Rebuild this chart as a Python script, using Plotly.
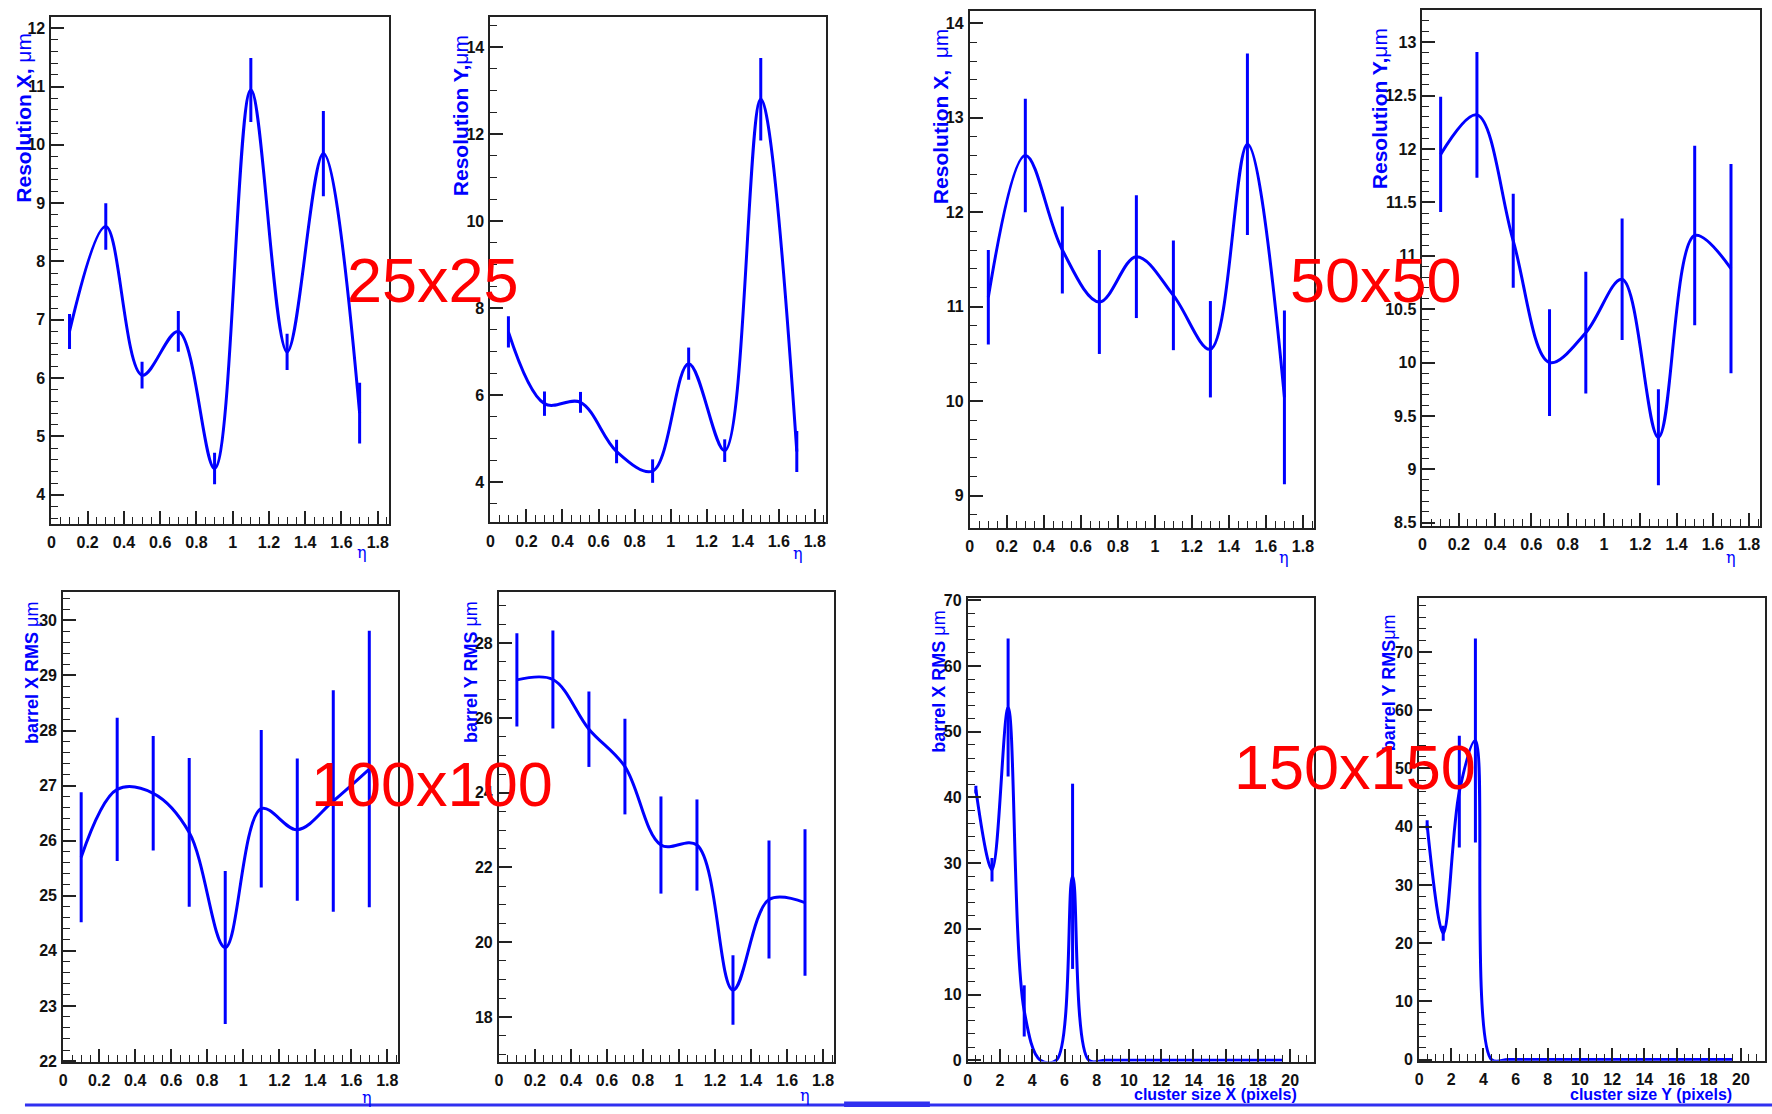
import plotly.graph_objects as go

W, H = 1772, 1114

# ---------------- data ----------------
eta = [0.1, 0.3, 0.5, 0.7, 0.9, 1.1, 1.3, 1.5, 1.7]

res25_x = [6.8, 8.6, 6.05, 6.8, 4.45, 10.94, 6.45, 9.85, 5.4]
res25_x_err = [0.3, 0.4, 0.23, 0.35, 0.27, 0.55, 0.31, 0.73, 0.52]

res25_y = [7.45, 5.8, 5.83, 4.7, 4.25, 6.72, 4.72, 12.8, 4.7]
res25_y_err = [0.36, 0.28, 0.24, 0.27, 0.27, 0.37, 0.26, 0.95, 0.47]

res50_x = [11.1, 12.6, 11.6, 11.05, 11.53, 11.12, 10.55, 12.72, 10.04]
res50_x_err = [0.5, 0.6, 0.46, 0.55, 0.65, 0.58, 0.51, 0.96, 0.92]

res50_y = [11.95, 12.32, 11.14, 10.0, 10.28, 10.78, 9.3, 11.19, 10.88]
res50_y_err = [0.54, 0.59, 0.44, 0.5, 0.57, 0.57, 0.45, 0.84, 0.98]

rms100_x = [25.7, 26.93, 26.86, 26.15, 24.06, 26.58, 26.2, 26.72, 27.3]
rms100_x_err = [1.18, 1.3, 1.04, 1.35, 1.39, 1.43, 1.29, 2.01, 2.51]

rms100_y = [27.02, 27.03, 25.7, 24.7, 22.6, 22.6, 18.72, 21.14, 21.06]
rms100_y_err = [1.25, 1.31, 1.01, 1.28, 1.3, 1.22, 0.93, 1.58, 1.96]

cluster = [0.5, 1.5, 2.5, 3.5, 4.5, 5.5, 6.5, 7.5, 8.5, 9.5,
           10.5, 11.5, 12.5, 13.5, 14.5, 15.5, 16.5, 17.5, 18.5, 19.5]
rms150_x = [41.2, 29.0, 53.7, 7.5, 0, 0, 28.0, 0, 0, 0,
            0, 0, 0, 0, 0, 0, 0, 0, 0, 0]
rms150_x_err = [0.6, 1.8, 10.5, 3.9, 0, 0, 14.1, 0, 0, 0,
                0, 0, 0, 0, 0, 0, 0, 0, 0, 0]
rms150_y = [40.3, 21.7, 46.0, 54.8, 0, 0, 0, 0, 0, 0,
            0, 0, 0, 0, 0, 0, 0, 0, 0, 0]
rms150_y_err = [0.8, 1.3, 9.6, 17.5, 0, 0, 0, 0, 0, 0,
                0, 0, 0, 0, 0, 0, 0, 0, 0, 0]

y_titles = ["<b>Resolution X, </b>μm", "<b>Resolution Y,</b>μm",
            "<b>Resolution X,\u00a0 </b>μm", "<b>Resolution Y,</b>μm",
            "<b>barrel X RMS </b>μm", "<b>barrel Y RMS </b>μm",
            "<b>barrel X RMS </b>μm", "<b>barrel Y RMS</b>μm"]
size_labels = ["25x25", "50x50", "100x100", "150x150"]

# ---------------- layout helpers ----------------
def xp(px):
    return px / W

def yp(py):
    return 1 - py / H

BLUE = "#0000FF"
AX = "#222222"

panels = [
    # x, y, err, frame (l, r, top, bottom px), xrange, yrange, ydtick, yminor, xdtick, xminor
    (eta, res25_x, res25_x_err, (47.5, 385.5, 10.7, 524), [0, 1.86], [3.5, 12.2], 1, 0.2, 0.2, 0.05),
    (eta, res25_y, res25_y_err, (487.5, 823.5, 10.7, 522.5), [0, 1.86], [3.07, 14.7], 2, 0.5, 0.2, 0.05),
    (eta, res50_x, res50_x_err, (968, 1313, 5, 528), [0, 1.86], [8.66, 14.13], 1, 0.2, 0.2, 0.05),
    (eta, res50_y, res50_y_err, (1421.7, 1760, 4.3, 526), [0, 1.86], [8.47, 13.3], 0.5, 0.1, 0.2, 0.05),
    (eta, rms100_x, rms100_x_err, (59.3, 395, 592.6, 1068.6), [0, 1.86], [21.98, 30.52], 1, 0.2, 0.2, 0.05),
    (eta, rms100_y, rms100_y_err, (496, 831.7, 592.6, 1068.6), [0, 1.86], [16.79, 29.38], 2, 0.5, 0.2, 0.05),
    (cluster, rms150_x, rms150_x_err, (966, 1313.3, 598.8, 1068), [0, 21.5], [-0.2, 70.4], 10, 2, 2, 0.5),
    (cluster, rms150_y, rms150_y_err, (1418.3, 1765, 598.8, 1067.2), [0, 21.5], [-0.2, 79.3], 10, 2, 2, 0.5),
]

fig = go.Figure()
tickfont = dict(family="Liberation Sans", size=16, color="#111111", weight="bold")

for i, (xs, ys, es, fr, xr, yr, ydt, ymn, xdt, xmn) in enumerate(panels):
    n = "" if i == 0 else str(i + 1)
    l, r, t, b = fr
    fig.add_trace(go.Scatter(
        x=xs, y=ys, mode="lines",
        line=dict(shape="spline", smoothing=1.0, color=BLUE, width=3),
        error_y=dict(type="data", array=es, visible=True, thickness=3, width=0, color=BLUE),
        xaxis="x" + n, yaxis="y" + n, showlegend=False, hoverinfo="skip",
    ))
    fig.layout["xaxis" + n] = dict(
        domain=[xp(l), xp(r)], range=xr, anchor="y" + n,
        dtick=xdt, tick0=0, ticks="inside", ticklen=13, tickwidth=1.5, tickcolor=AX,
        minor=dict(dtick=xmn, tick0=0, ticks="inside", ticklen=7, tickwidth=1, tickcolor=AX, showgrid=False),
        showline=True, linecolor=AX, linewidth=2, mirror=True,
        showgrid=False, zeroline=False, tickfont=tickfont, ticklabelstandoff=3,
    )
    fig.layout["yaxis" + n] = dict(
        domain=[yp(b), yp(t)], range=yr, anchor="x" + n,
        dtick=ydt, tick0=0, ticks="inside", ticklen=13, tickwidth=1.5, tickcolor=AX,
        minor=dict(dtick=ymn, tick0=0, ticks="inside", ticklen=7, tickwidth=1, tickcolor=AX, showgrid=False),
        showline=True, linecolor=AX, linewidth=2, mirror=True,
        showgrid=False, zeroline=False, tickfont=tickfont, ticklabelstandoff=1,
    )

annotations = []
# y-axis titles (x center px, top px, size)
title_pos = [(20, 25, 21), (457, 27, 21), (938, 21, 21), (1378, 20, 21),
             (28, 601, 18), (468, 600, 18), (937, 610, 18), (1388, 613, 18)]
for txt, (cx, ty, fs) in zip(y_titles, title_pos):
    annotations.append(dict(
        text=txt, x=xp(cx), y=yp(ty), xref="paper", yref="paper",
        xanchor="center", yanchor="top", textangle=-90, showarrow=False,
        font=dict(family="Liberation Sans", size=fs, color=BLUE),
    ))

# eta labels
for cx, cy in [(359, 553), (796, 554), (1283, 558), (1731, 558), (364, 1104), (803, 1102)]:
    annotations.append(dict(
        text="η", x=xp(cx), y=yp(cy), xref="paper", yref="paper",
        xanchor="center", yanchor="middle", showarrow=False,
        font=dict(family="DejaVu Serif", size=16, color=BLUE),
    ))

# cluster size x titles
for txt, cx in [("cluster size X (pixels)", 1214), ("cluster size Y (pixels)", 1651)]:
    annotations.append(dict(
        text="<b>" + txt + "</b>", x=xp(cx), y=yp(1101), xref="paper", yref="paper",
        xanchor="center", yanchor="middle", showarrow=False,
        font=dict(family="Liberation Sans", size=16, color=BLUE),
    ))

# size labels
for txt, (cx, cy) in zip(size_labels, [(430, 277), (1375, 277), (429, 787), (1354, 770)]):
    annotations.append(dict(
        text=txt, x=xp(cx), y=yp(cy), xref="paper", yref="paper",
        xanchor="center", yanchor="middle", showarrow=False,
        font=dict(family="Liberation Sans", size=63, color="#FF0000"),
    ))

shapes = [
    dict(type="line", xref="paper", yref="paper", x0=xp(21), x1=xp(1772), y0=yp(1112), y1=yp(1112),
         line=dict(color="#3030F0", width=3)),
    dict(type="rect", xref="paper", yref="paper", x0=xp(842), x1=xp(928), y0=yp(1114), y1=yp(1108.5),
         line=dict(width=0), fillcolor="#3030F0"),
]

fig.update_layout(
    width=W, height=H, margin=dict(l=0, r=0, t=0, b=0),
    paper_bgcolor="white", plot_bgcolor="white",
    annotations=annotations, shapes=shapes, showlegend=False,
)

post = (
    "document.documentElement.style.margin='0';"
    "document.documentElement.style.overflow='hidden';"
    "document.body.style.margin='0';document.body.style.padding='0';"
    "document.body.style.overflow='hidden';"
    "var g=document.getElementById('fig');"
    "g.style.position='fixed';g.style.left='0px';g.style.top='0px';"
)
fig.write_html("out.html", config={"displayModeBar": False}, div_id="fig", post_script=post)
